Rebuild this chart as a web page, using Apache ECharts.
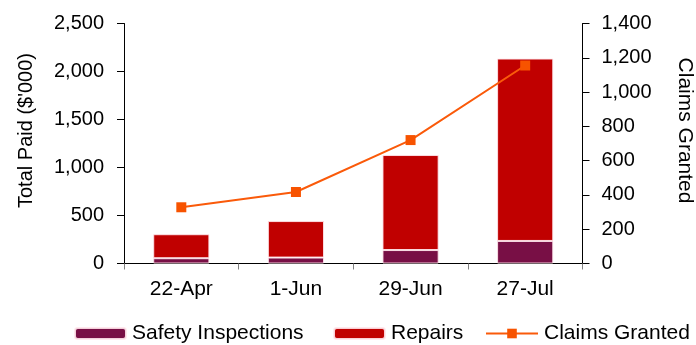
<!DOCTYPE html>
<html>
<head>
<meta charset="utf-8">
<script src="https://cdn.jsdelivr.net/npm/echarts@6/dist/echarts.min.js"></script>
<style>
  html, body { margin: 0; padding: 0; background: #fff; }
  #chart { width: 696px; height: 345px; }
</style>
</head>
<body>
<div id="chart"></div>
<script>
// Snapshot dates
const categories = ['22-Apr', '1-Jun', '29-Jun', '27-Jul'];
// Total paid, $'000
const safetyInspections = [55, 62, 140, 235];
const repairs = [250, 380, 990, 1900];
// Number of claims granted (right axis)
const claimsGranted = [328, 417, 720, 1155];

const leftTicks = { min: 0, max: 2500, interval: 500 };
const rightTicks = { min: 0, max: 1400, interval: 200 };

const FONT = '"Liberation Sans", Arial, sans-serif';
const TXT = '#000';
const legendText = { fontFamily: FONT, fontSize: 21, color: TXT, padding: [0, 0, 0, 1] };

const chart = echarts.init(document.getElementById('chart'), null, { renderer: 'canvas' });

const fmt = v => v.toLocaleString('en-US');

chart.setOption({
  animation: false,
  textStyle: { fontFamily: FONT },
  grid: {
    left: 124, right: 113.5, top: 23.5, bottom: 81.5,
    containLabel: false, outerBoundsMode: 'none'
  },
  legend: [
    { data: ['Safety Inspections'], left: 74, top: 323, padding: 0, itemWidth: 51, itemHeight: 11, textStyle: legendText },
    { data: ['Repairs'], left: 333, top: 323, padding: 0, itemWidth: 51, itemHeight: 11, textStyle: legendText },
    { data: ['Claims Granted'], left: 485, top: 323, padding: 0, itemWidth: 52, itemHeight: 12, textStyle: legendText }
  ],
  xAxis: {
    type: 'category',
    data: categories,
    boundaryGap: true,
    axisLine: { lineStyle: { color: '#000', width: 1 } },
    axisTick: { show: true, length: 6, lineStyle: { color: '#808080' } },
    axisLabel: { fontSize: 21, color: TXT, fontFamily: FONT, margin: 15 }
  },
  yAxis: [
    {
      type: 'value',
      min: leftTicks.min, max: leftTicks.max, interval: leftTicks.interval,
      name: "Total Paid ($'000)",
      nameLocation: 'middle',
      nameGap: 88,
      nameRotate: 90,
      // shift the title a little above the plot's midpoint
      nameTextStyle: { fontSize: 20, color: TXT, fontFamily: FONT, padding: [0, 0, 0, 26] },
      axisLine: { show: true, lineStyle: { color: '#000' } },
      axisTick: { show: true, length: 7, lineStyle: { color: '#000' } },
      splitLine: { show: false },
      axisLabel: { fontSize: 20, color: TXT, fontFamily: FONT, margin: 20, formatter: fmt }
    },
    {
      type: 'value',
      position: 'right',
      min: rightTicks.min, max: rightTicks.max, interval: rightTicks.interval,
      name: 'Claims Granted',
      nameLocation: 'middle',
      nameGap: 92,
      nameRotate: -90,
      nameTextStyle: { fontSize: 21, color: TXT, fontFamily: FONT, padding: [0, 26, 0, 0] },
      axisLine: { show: true, lineStyle: { color: '#000' } },
      axisTick: { show: true, length: 7, lineStyle: { color: '#000' } },
      splitLine: { show: false },
      axisLabel: { fontSize: 20, color: TXT, fontFamily: FONT, margin: 19, formatter: fmt }
    }
  ],
  series: [
    {
      name: 'Safety Inspections',
      type: 'bar',
      stack: 'paid',
      yAxisIndex: 0,
      barWidth: '49%',
      data: safetyInspections,
      itemStyle: { color: '#780F45', borderColor: 'rgba(255,230,235,0.9)', borderWidth: 1 }
    },
    {
      name: 'Repairs',
      type: 'bar',
      stack: 'paid',
      yAxisIndex: 0,
      barWidth: '49%',
      data: repairs,
      itemStyle: { color: '#C00000', borderColor: 'rgba(255,230,235,0.9)', borderWidth: 1 }
    },
    {
      name: 'Claims Granted',
      type: 'line',
      yAxisIndex: 1,
      data: claimsGranted,
      symbol: 'rect',
      symbolSize: 10,
      lineStyle: { color: '#FA5A0A', width: 2 },
      itemStyle: { color: '#F75300' },
      z: 5
    }
  ]
});
</script>
</body>
</html>
